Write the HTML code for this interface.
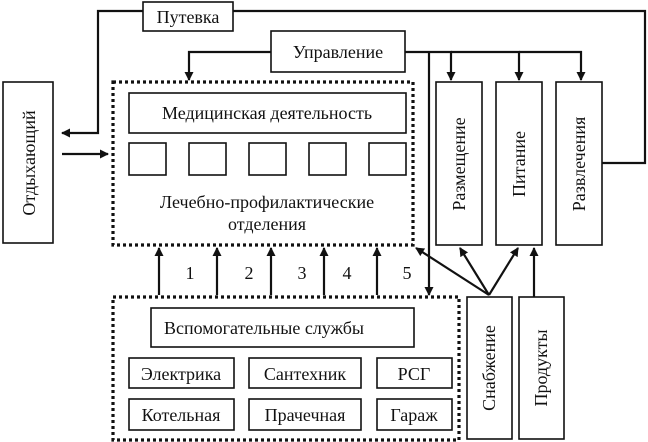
<!DOCTYPE html>
<html><head><meta charset="utf-8"><style>body{margin:0;background:#fff}svg{display:block}text{font-family:"Liberation Serif",serif;fill:#111}</style></head><body>
<svg width="648" height="442" viewBox="0 0 648 442" xmlns="http://www.w3.org/2000/svg">
<defs><marker id="a" markerWidth="9" markerHeight="9" refX="8" refY="4.5" orient="auto" markerUnits="userSpaceOnUse"><path d="M0,0 L9,4.5 L0,9 z" fill="#111"/></marker></defs>
<g fill="none" stroke="#111" stroke-width="1.6">
<rect x="143" y="2" width="90" height="29"/>
<rect x="271" y="31" width="134" height="41"/>
<rect x="3" y="82" width="50" height="161"/>
<rect x="129" y="93" width="277" height="40"/>
<rect x="129" y="143" width="37" height="32"/><rect x="189" y="143" width="37" height="32"/><rect x="249" y="143" width="37" height="32"/><rect x="309" y="143" width="37" height="32"/><rect x="369" y="143" width="37" height="32"/>
<rect x="436" y="82" width="46" height="163"/><rect x="496" y="82" width="46" height="163"/><rect x="556" y="82" width="46" height="163"/>
<rect x="151" y="308" width="263" height="39"/>
<rect x="129" y="358" width="105" height="30"/><rect x="249" y="358" width="112" height="30"/><rect x="377" y="358" width="75" height="30"/>
<rect x="129" y="399" width="105" height="31"/><rect x="249" y="399" width="112" height="31"/><rect x="377" y="399" width="75" height="31"/>
<rect x="467" y="297" width="45" height="142"/><rect x="519" y="297" width="45" height="142"/>
</g>
<g fill="none" stroke="#111" stroke-width="3.2" stroke-dasharray="3,3">
<rect x="113" y="82" width="300" height="163"/>
<rect x="113" y="297" width="346" height="143"/>
</g>
<g fill="none" stroke="#111" stroke-width="2.2" marker-end="url(#a)">
<path d="M143,11 H98 V133 H62"/>
<path d="M62,154 H108"/>
<path d="M271,52 H189 V80"/>
<path d="M405,52 H451 V80"/>
<path d="M451,52 H519 V80"/>
<path d="M519,52 H581 V80"/>
<path d="M429,52 V295"/>
<path d="M159,295 V248"/><path d="M217,295 V248"/><path d="M271,295 V248"/><path d="M324,295 V248"/><path d="M377,295 V248"/>
<path d="M489,295 L416,248"/><path d="M489,295 L460,248"/><path d="M489,295 L518,248"/>
<path d="M534,297 V248"/>
</g>
<path d="M233,11 H645 V163 H602" fill="none" stroke="#111" stroke-width="2.2"/>
<g font-size="18" text-anchor="middle">
<text x="188" y="23">Путевка</text>
<text x="338" y="58">Управление</text>
<text x="267" y="119">Медицинская деятельность</text>
<text x="267" y="208">Лечебно-профилактические</text>
<text x="267" y="230">отделения</text>
<text x="264" y="334">Вспомогательные службы</text>
<text x="181" y="380">Электрика</text><text x="305" y="380">Сантехник</text><text x="414" y="380">РСГ</text>
<text x="181" y="421">Котельная</text><text x="305" y="421">Прачечная</text><text x="414" y="421">Гараж</text>
<text x="190" y="279">1</text><text x="249" y="279">2</text><text x="302" y="279">3</text><text x="347" y="279">4</text><text x="407" y="279">5</text>
<text transform="translate(35,163) rotate(-90)">Отдыхающий</text>
<text transform="translate(465,164) rotate(-90)">Размещение</text>
<text transform="translate(525,164) rotate(-90)">Питание</text>
<text transform="translate(585,164) rotate(-90)">Развлечения</text>
<text transform="translate(495,368) rotate(-90)">Снабжение</text>
<text transform="translate(547,368) rotate(-90)">Продукты</text>
</g>
</svg>
</body></html>
